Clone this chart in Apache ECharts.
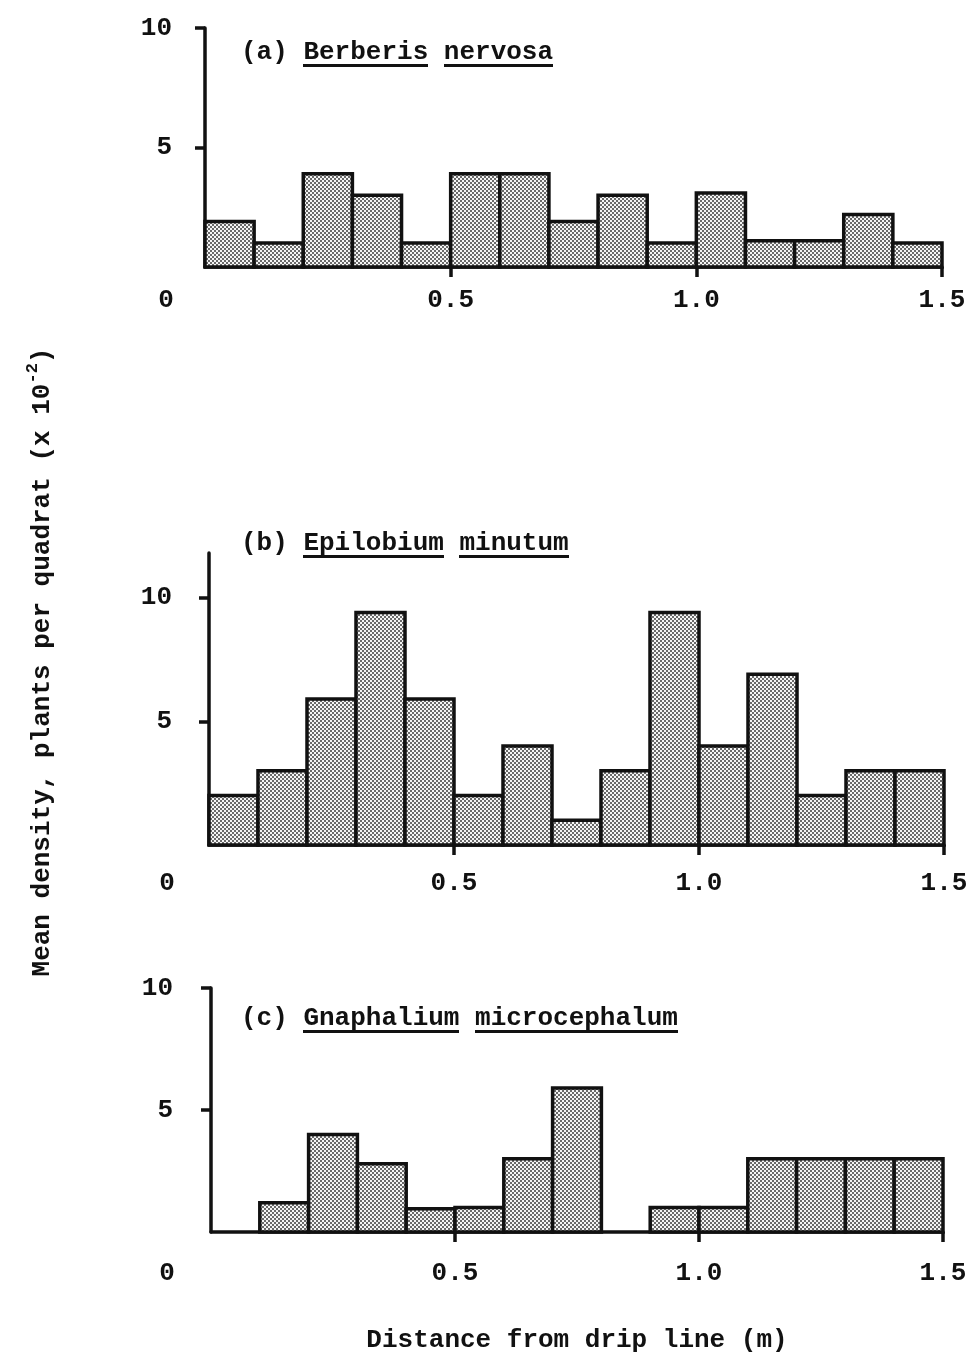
<!DOCTYPE html>
<html>
<head>
<meta charset="utf-8">
<title>Mean density by distance from drip line</title>
<script src="https://cdn.jsdelivr.net/npm/echarts@6/dist/echarts.min.js"></script>
<style>
  html, body { margin: 0; padding: 0; background: #fff; }
  #chart { width: 977px; height: 1357px; }
</style>
</head>
<body>
<div id="chart"></div>
<script>
// Distance bins (m): each bar covers [start, start + binWidth)
const binStarts = [0.0, 0.1, 0.2, 0.3, 0.4, 0.5, 0.6, 0.7, 0.8, 0.9, 1.0, 1.1, 1.2, 1.3, 1.4];
const binWidth = 0.1;

// Mean density, plants per quadrat (x 10^-2)
const berberis   = [1.9, 1.0, 3.9, 3.0, 1.0, 3.9, 3.9, 1.9, 3.0, 1.0, 3.1, 1.1, 1.1, 2.2, 1.0];
const epilobium  = [2.0, 3.0, 5.9, 9.4, 5.9, 2.0, 4.0, 1.0, 3.0, 9.4, 4.0, 6.9, 2.0, 3.0, 3.0];
const gnaphalium = [0.0, 1.2, 4.0, 2.8, 0.95, 1.0, 3.0, 5.9, 0.0, 1.0, 1.0, 3.0, 3.0, 3.0, 3.0];

// Axis ticks and labels
const xTickValues  = [0.5, 1.0, 1.5];
const xLabelValues = [0, 0.5, 1.0, 1.5];
const yTickValues  = [5, 10];

// Text
const panelTitles = [
  '(a) {u|Berberis} {u|nervosa}',
  '(b) {u|Epilobium} {u|minutum}',
  '(c) {u|Gnaphalium} {u|microcephalum}'
];
const yAxisTitle = 'Mean density, plants per quadrat (x 10{s|-2})';
const xAxisTitle = 'Distance from drip line (m)';

const FONT = '"Liberation Mono", "Courier New", monospace';
const INK = '#111';

// Halftone screen used to fill the bars
function makeScreen() {
  const c = document.createElement('canvas');
  c.width = 4; c.height = 4;
  const g = c.getContext('2d');
  g.fillStyle = '#f5f5f5';
  g.fillRect(0, 0, 4, 4);
  g.fillStyle = '#6a6a6a';
  g.fillRect(0, 0, 2, 2);
  g.fillRect(2, 2, 2, 2);
  return c;
}
const screen = { image: makeScreen(), repeat: 'repeat' };

// Underline strip, stretched behind an underlined word
function makeUnderline() {
  const c = document.createElement('canvas');
  c.width = 1; c.height = 30;
  const g = c.getContext('2d');
  g.fillStyle = INK;
  g.fillRect(0, 27, 1, 3);
  return c;
}
const underline = { image: makeUnderline() };

// Panel layout
const panels = [
  { data: berberis,   grid: { left: 205, top: 28,  width: 737, height: 239 }, yMax: 10,   labelGap: 20, zeroShift: 78, yLabelGap: 33, titleTop: 37 },
  { data: epilobium,  grid: { left: 209, top: 553, width: 735, height: 292 }, yMax: 11.8, labelGap: 25, zeroShift: 84, yLabelGap: 37, titleTop: 528 },
  { data: gnaphalium, grid: { left: 211, top: 988, width: 732, height: 244 }, yMax: 10,   labelGap: 28, zeroShift: 88, yLabelGap: 38, titleTop: 1003 }
];

const textBase = { fontFamily: FONT, fontSize: 26, fontWeight: 'bold', color: INK };
const LINE = 3.5;

function histogramItem(params, api) {
  const start = api.value(0);
  const v = api.value(1);
  if (!v) return null;
  const p0 = api.coord([start, 0]);
  const p1 = api.coord([start + binWidth, v]);
  return {
    type: 'rect',
    shape: { x: p0[0], y: p1[1], width: p1[0] - p0[0], height: p0[1] - p1[1] },
    style: { fill: screen, stroke: INK, lineWidth: LINE }
  };
}

const option = {
  backgroundColor: '#fff',
  animation: false,
  title: panels.map((p, i) => ({
    text: panelTitles[i],
    left: 241,
    top: p.titleTop,
    padding: 0,
    textStyle: Object.assign({}, textBase, {
      lineHeight: 30,
      rich: {
        u: Object.assign({}, textBase, {
          lineHeight: 30,
          height: 30,
          backgroundColor: underline
        })
      }
    })
  })),
  grid: panels.map(p => Object.assign({ containLabel: false }, p.grid)),
  xAxis: panels.map((p, i) => ({
    type: 'value',
    gridIndex: i,
    min: 0,
    max: 1.5,
    name: i === 2 ? xAxisTitle : '',
    nameLocation: 'middle',
    nameGap: 95,
    nameTextStyle: textBase,
    splitLine: { show: false },
    axisLine: { show: true, onZero: false, lineStyle: { color: INK, width: LINE } },
    axisTick: { show: true, customValues: xTickValues, length: 10, lineStyle: { color: INK, width: LINE } },
    axisLabel: Object.assign({}, textBase, {
      customValues: xLabelValues,
      margin: p.labelGap,
      formatter: v => (v === 0 ? '{z|0}' : v.toFixed(1)),
      rich: { z: Object.assign({}, textBase, { padding: [0, p.zeroShift, 0, 0] }) }
    })
  })),
  yAxis: panels.map((p, i) => ({
    type: 'value',
    gridIndex: i,
    min: 0,
    max: p.yMax,
    splitLine: { show: false },
    axisLine: { show: true, onZero: false, lineStyle: { color: INK, width: LINE } },
    axisTick: { show: true, customValues: yTickValues, length: 10, lineStyle: { color: INK, width: LINE } },
    axisLabel: Object.assign({}, textBase, {
      customValues: yTickValues,
      margin: p.yLabelGap
    })
  })),
  series: panels.map((p, i) => ({
    type: 'custom',
    xAxisIndex: i,
    yAxisIndex: i,
    renderItem: histogramItem,
    encode: { x: 0, y: 1 },
    data: binStarts.map((s, k) => [s, p.data[k]])
  })),
  graphic: [{
    type: 'text',
    x: 42,
    y: 662,
    rotation: Math.PI / 2,
    style: {
      text: yAxisTitle,
      font: 'bold 26px ' + FONT,
      fill: INK,
      align: 'center',
      verticalAlign: 'middle',
      lineHeight: 36,
      rich: {
        s: { font: 'bold 17px ' + FONT, fill: INK, verticalAlign: 'top', lineHeight: 36 }
      }
    }
  }]
};

const chart = echarts.init(document.getElementById('chart'), null, { renderer: 'canvas' });
chart.setOption(option);
</script>
</body>
</html>
